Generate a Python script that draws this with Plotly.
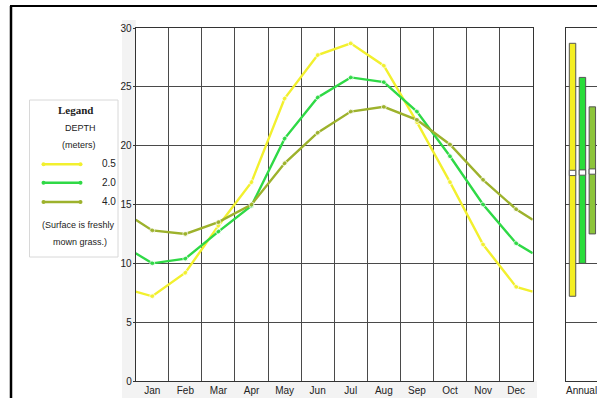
import plotly.graph_objects as go

# Monthly mean soil temperature (deg C) at three depths
months = ["Jan", "Feb", "Mar", "Apr", "May", "Jun",
          "Jul", "Aug", "Sep", "Oct", "Nov", "Dec"]
depth_labels = ["0.5", "2.0", "4.0"]
temp_05 = [7.2, 9.2, 13.2, 16.9, 24.0, 27.7, 28.7, 26.8, 22.0, 16.9, 11.6, 8.0]
temp_20 = [10.0, 10.4, 12.7, 14.9, 20.6, 24.1, 25.8, 25.4, 22.9, 19.1, 15.0, 11.7]
temp_40 = [12.8, 12.5, 13.5, 15.0, 18.5, 21.1, 22.9, 23.3, 22.2, 20.1, 17.1, 14.6]
y_ticks = [0, 5, 10, 15, 20, 25, 30]
annual_label = "Annual"

line_colors = ["#f2f02e", "#2fd946", "#9db22c"]
bar_colors = ["#f4ee22", "#29dd3a", "#8cc43a"]
series = [temp_05, temp_20, temp_40]

W, H = 597, 398
TXT = "#222222"
FONT = "Liberation Sans Narrow, Arial Narrow, Liberation Sans, sans-serif"
GRID = "#4a4a4a"


def px(x):
    return x / W


def py(y):
    return 1 - y / H


fig = go.Figure()

# Monthly curves: points at month centres, wrapped to the Dec/Jan boundary
for vals, col, name in zip(series, line_colors, depth_labels):
    edge = (vals[0] + vals[-1]) / 2
    xs = [0] + [i + 0.5 for i in range(12)] + [12]
    ys = [edge] + vals + [edge]
    sizes = [0] + [5] * 12 + [0]
    fig.add_trace(go.Scatter(
        x=xs, y=ys, mode="lines+markers", name=name,
        line=dict(color=col, width=2.4),
        marker=dict(color=col, size=sizes),
        showlegend=False, xaxis="x", yaxis="y"))

# Annual range bars (min to max) with a mean band
for i, (vals, col) in enumerate(zip(series, bar_colors)):
    lo, hi = min(vals), max(vals)
    mean = sum(vals) / len(vals)
    fig.add_trace(go.Bar(
        x=[i + 1], y=[hi - lo], base=[lo], width=0.65,
        marker=dict(color=col, line=dict(color="#555555", width=1)),
        showlegend=False, xaxis="x2", yaxis="y2"))
    fig.add_trace(go.Bar(
        x=[i + 1], y=[0.45], base=[mean - 0.225], width=0.65,
        marker=dict(color="white", line=dict(color="#555555", width=1)),
        showlegend=False, xaxis="x2", yaxis="y2"))

y_dom = [py(381), py(28)]

fig.update_layout(
    width=W, height=H, autosize=False,
    margin=dict(l=0, r=0, t=0, b=0, autoexpand=False),
    paper_bgcolor="white", plot_bgcolor="white",
    barmode="overlay",
    font=dict(family=FONT, size=10, color=TXT),
    xaxis=dict(
        domain=[px(135.7), px(532.7)], range=[0, 12],
        tickvals=[i + 0.5 for i in range(12)], ticktext=months,
        showgrid=False, zeroline=False, ticks="",
        showline=True, linecolor="#333333", linewidth=1, mirror=True,
        minor=dict(dtick=1, tick0=0, showgrid=True,
                   gridcolor=GRID, gridwidth=1, ticks=""),
        tickfont=dict(family=FONT, size=10, color=TXT), fixedrange=True,
        automargin=False),
    yaxis=dict(
        domain=y_dom, range=[0, 30], tickvals=y_ticks,
        showgrid=True, gridcolor=GRID, gridwidth=1, zeroline=False,
        showline=True, linecolor="#333333", linewidth=1, mirror=True,
        ticks="outside", ticklen=2, tickcolor="#333333",
        ticklabelstandoff=-1,
        tickfont=dict(family=FONT, size=10, color=TXT), fixedrange=True,
        automargin=False),
    xaxis2=dict(
        domain=[px(565.7), 1.0], range=[0.31, 3.47],
        showticklabels=False,
        showgrid=False, zeroline=False, ticks="",
        showline=True, linecolor="#333333", linewidth=1, mirror=True,
        fixedrange=True, automargin=False),
    yaxis2=dict(
        domain=y_dom, range=[0, 30], tickvals=y_ticks, anchor="x2",
        showticklabels=False, showgrid=True, gridcolor=GRID, gridwidth=1,
        zeroline=False, showline=True, linecolor="#333333", linewidth=1,
        fixedrange=True, automargin=False),
)

shapes = []
# faint panel behind the axis labels
shapes.append(dict(type="rect", xref="paper", yref="paper", layer="below",
                   x0=px(122), x1=px(135.7), y0=0, y1=py(20),
                   fillcolor="#f3f3f3", line=dict(width=0)))
shapes.append(dict(type="rect", xref="paper", yref="paper", layer="below",
                   x0=px(122), x1=px(537), y0=0, y1=py(381),
                   fillcolor="#f3f3f3", line=dict(width=0)))
# page frame
shapes.append(dict(type="line", xref="paper", yref="paper",
                   x0=px(10), x1=1.0, y0=py(6), y1=py(6),
                   line=dict(color="black", width=2)))
shapes.append(dict(type="line", xref="paper", yref="paper",
                   x0=px(11), x1=px(11), y0=py(6), y1=0,
                   line=dict(color="black", width=2.5)))
# legend box
shapes.append(dict(type="rect", xref="paper", yref="paper",
                   x0=px(29.5), x1=px(118), y0=py(257), y1=py(100),
                   fillcolor="white", line=dict(color="#d8d8d8", width=1)))

annotations = [
    dict(text="<b>Legand</b>", x=px(75), y=py(109.5),
         font=dict(family="Liberation Serif, Times New Roman, serif",
                   size=11, color=TXT)),
    dict(text="DEPTH", x=px(80), y=py(128), font=dict(size=9)),
    dict(text="(meters)", x=px(79), y=py(145.5), font=dict(size=9)),
    dict(text="(Surface is freshly", x=px(78.5), y=py(225), font=dict(size=9)),
    dict(text="mown grass.)", x=px(79.5), y=py(242.5), font=dict(size=9)),
    dict(text=annual_label, x=px(581.5), y=py(390), font=dict(size=10)),
]

for k, (name, col) in enumerate(zip(depth_labels, line_colors)):
    yy = [164.3, 182.8, 202.0][k]
    shapes.append(dict(type="line", xref="paper", yref="paper",
                       x0=px(43.5), x1=px(80.5), y0=py(yy), y1=py(yy),
                       line=dict(color=col, width=2.6)))
    for ex in (43.5, 80.5):
        shapes.append(dict(type="circle", xref="paper", yref="paper",
                           x0=px(ex - 2), x1=px(ex + 2),
                           y0=py(yy + 2), y1=py(yy - 2),
                           fillcolor=col, line=dict(width=0)))
    annotations.append(dict(text=name, x=px(108.5), y=py(yy - 0.5),
                            font=dict(size=10)))

for a in annotations:
    a.update(xref="paper", yref="paper", showarrow=False,
             xanchor="center", yanchor="middle")
    a["font"].setdefault("family", FONT)
    a["font"].setdefault("color", TXT)

fig.update_layout(shapes=shapes, annotations=annotations)

fig.write_html("out.html")
